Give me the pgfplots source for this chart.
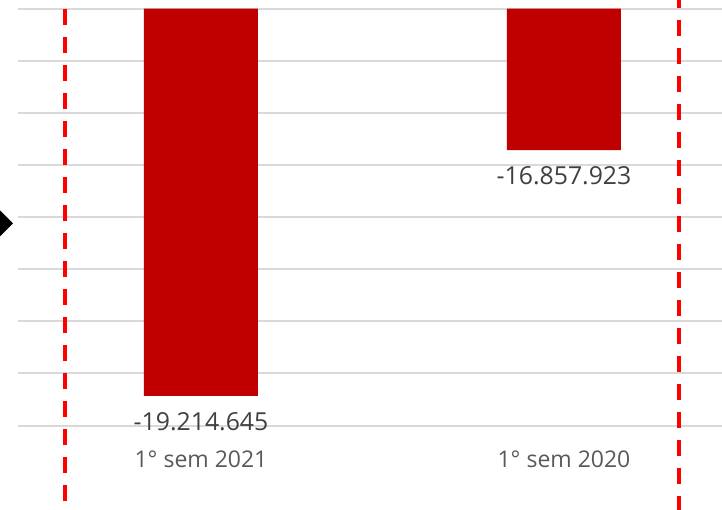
\documentclass[border=0pt]{standalone}
\usepackage{pgfplots}
\pgfplotsset{compat=1.18}
\usepackage{fontspec}
\setmainfont{Open Sans}
\definecolor{barred}{HTML}{C00000}
\definecolor{gridgray}{HTML}{D9D9D9}
\definecolor{dashred}{HTML}{FF0000}
\definecolor{valtxt}{HTML}{404040}
\definecolor{ticktxt}{HTML}{595959}
\begin{document}
\begin{tikzpicture}
\begin{axis}[
  scale only axis, width=352pt, height=250.15pt,
  xmin=-0.5041, xmax=1.4353, ymin=-20310577, ymax=-15500000,
  ybar, bar width=57pt,
  axis line style={draw=none},
  xtick={0,1}, xticklabels={1° sem 2021, 1° sem 2020},
  xticklabel style={anchor=center, yshift=25.5pt, font=\fontsize{11.5}{13}\selectfont, text=ticktxt},
  major tick length=0pt,
  ytick={-19500000,-19000000,-18500000,-18000000,-17500000,-17000000,-16500000,-16000000,-15500000},
  yticklabels={}, scaled y ticks=false,
  ymajorgrids, major grid style={gridgray, line width=1pt},
  clip mode=individual,
]
\addplot[fill=barred, draw=none] coordinates {(0,-19214645) (1,-16857923)};
\node[text=valtxt, font=\fontsize{12.4}{14}\selectfont, yshift=-13pt] at (axis cs:0,-19214645) {-19.214.645};
\node[text=valtxt, font=\fontsize{12.4}{14}\selectfont, yshift=-13pt] at (axis cs:1,-16857923) {-16.857.923};
\draw[dashred, line width=2pt, dash pattern=on 8pt off 6pt] (axis cs:-0.3733,-15500000) -- (axis cs:-0.3733,-20310577);
\draw[dashred, line width=2pt, dash pattern=on 8pt off 6pt, dash phase=4pt] ([yshift=4.35pt]axis cs:1.3168,-15500000) -- (axis cs:1.3168,-20310577);
\fill[black] (axis cs:-0.5895,-17560577) -- (axis cs:-0.5537,-17435577) -- (axis cs:-0.5179,-17560577) -- (axis cs:-0.5537,-17685577) -- cycle;
\end{axis}
\pgfresetboundingbox
\useasboundingbox ([xshift=-9pt]current axis.south west) rectangle ([yshift=4.35pt]current axis.north east);
\end{tikzpicture}
\end{document}
